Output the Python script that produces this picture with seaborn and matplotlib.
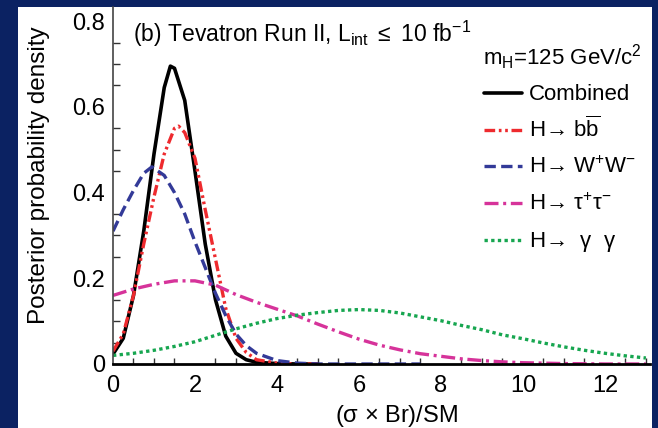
import numpy as np
import pandas as pd
import seaborn as sns
import matplotlib
matplotlib.use("Agg")
import matplotlib.pyplot as plt
from matplotlib.lines import Line2D
from matplotlib.patches import Rectangle
from matplotlib.ticker import MultipleLocator

# ---------------- data ----------------
comb_x = [0, 0.25, 0.5, 0.75, 1.0, 1.25, 1.4, 1.5, 1.75, 2.0, 2.25, 2.5, 2.75, 3.0, 3.25, 3.5, 4.0, 4.5, 5.0]
comb_y = [0.023, 0.06, 0.16, 0.31, 0.49, 0.645, 0.695, 0.69, 0.615, 0.45, 0.28, 0.15, 0.065, 0.025, 0.01, 0.004, 0.001, 0, 0]

bb_x = [0, 0.25, 0.5, 0.75, 1.0, 1.25, 1.5, 1.6, 1.75, 2.0, 2.25, 2.5, 2.75, 3.0, 3.25, 3.5, 4.0, 4.5, 5.0]
bb_y = [0.03, 0.07, 0.16, 0.28, 0.39, 0.49, 0.55, 0.555, 0.54, 0.48, 0.36, 0.245, 0.13, 0.06, 0.027, 0.01, 0.002, 0, 0]

ww_x = [0, 0.25, 0.5, 0.75, 0.95, 1.25, 1.5, 1.75, 2.0, 2.25, 2.5, 2.75, 3.0, 3.25, 3.5, 4.0, 4.5, 5.0, 6.0, 7.5]
ww_y = [0.31, 0.36, 0.405, 0.445, 0.46, 0.44, 0.40, 0.35, 0.285, 0.225, 0.165, 0.113, 0.07, 0.043, 0.025, 0.008, 0.002, 0, 0, 0]

wide_x = [0, 0.5, 1.0, 1.5, 2.0, 2.5, 3.0, 3.5, 4.0, 4.5, 5.0, 5.5, 6.0, 6.5, 7.0, 7.5,
          8.0, 8.5, 9.0, 9.5, 10.0, 10.5, 11.0, 11.5, 12.0, 12.5, 13.0]
tautau_y = [0.16, 0.175, 0.186, 0.194, 0.194, 0.184, 0.162, 0.144, 0.128, 0.112, 0.093, 0.075, 0.058, 0.044,
            0.033, 0.024, 0.018, 0.012, 0.008, 0.005, 0.003, 0.002, 0.001, 0.0005, 0, 0, 0]
gg_y = [0.02, 0.025, 0.032, 0.041, 0.052, 0.067, 0.082, 0.095, 0.106, 0.114, 0.12, 0.125, 0.127, 0.125,
        0.119, 0.11, 0.101, 0.09, 0.08, 0.068, 0.059, 0.049, 0.04, 0.032, 0.025, 0.019, 0.014]

labels = ["Combined",
          r"H→ b$\overline{\mathrm{b}}$",
          r"H→ W$^{\mathrm{+}}$W$^{\mathrm{-}}$",
          r"H→ $\mathrm{\tau^{+}\tau^{-}}$",
          r"H→  $\mathrm{\gamma}$  $\mathrm{\gamma}$"]
x_ticks = [0, 2, 4, 6, 8, 10, 12]
y_ticks = [0, 0.2, 0.4, 0.6, 0.8]
y_tick_labels = ["0", "0.2", "0.4", "0.6", "0.8"]

# ---------------- style ----------------
sns.set_theme(style="white")
plt.rcParams['font.family'] = ['Liberation Sans', 'DejaVu Sans']
plt.rcParams['mathtext.fontset'] = 'custom'
plt.rcParams['mathtext.rm'] = 'Liberation Sans'
plt.rcParams['mathtext.it'] = 'Liberation Sans:italic'
plt.rcParams['mathtext.default'] = 'regular'
plt.rcParams['text.color'] = 'black'
plt.rcParams['axes.labelcolor'] = 'black'

NAVY = '#0b2262'
series = [
    (comb_x, comb_y, dict(color='black', lw=2.6, ls='-')),
    (bb_x, bb_y, dict(color='#ee2a2e', lw=2.4, ls=(0, (3.2, 1.1, 0.8, 1.1, 0.8, 1.1)))),
    (ww_x, ww_y, dict(color='#333a98', lw=2.4, ls=(0, (3.4, 1.6)))),
    (wide_x, tautau_y, dict(color='#d6339a', lw=2.4, ls=(0, (4.2, 1.4, 0.9, 1.4)))),
    (wide_x, gg_y, dict(color='#17a650', lw=2.4, ls=(0, (1.0, 1.0)))),
]

W, H = 658, 428
fig = plt.figure(figsize=(W / 100, H / 100), dpi=100, facecolor=NAVY)
fig.patches.append(Rectangle((18 / W, 0), (652 - 18) / W, 1 - 7 / H, transform=fig.transFigure,
                             facecolor='white', edgecolor='none', zorder=-10))

ax = fig.add_axes([113 / W, (H - 364) / H, (650 - 113) / W, (364 - 7) / H])
ax.set_zorder(2)
ax.patch.set_alpha(0)

for xs, ys, st in series:
    sns.lineplot(x=xs, y=ys, ax=ax, color=st['color'], linewidth=st['lw'], linestyle=st['ls'],
                 sort=False, estimator=None, dash_capstyle='butt', solid_joinstyle='round')

ax.set_xlim(0, 13.1)
ax.set_ylim(0, 0.833)
ax.set_xticks(x_ticks)
ax.set_xticklabels([str(t) for t in x_ticks])
ax.set_yticks(y_ticks)
ax.set_yticklabels(y_tick_labels)
ax.xaxis.set_minor_locator(MultipleLocator(0.5))
ax.yaxis.set_minor_locator(MultipleLocator(0.05))
ax.tick_params(axis='both', which='both', direction='in', colors='#333333', labelcolor='black', labelsize=17)
ax.tick_params(axis='x', which='major', length=8.5, width=1.0, pad=8)
ax.tick_params(axis='x', which='minor', length=4.3, width=1.0, bottom=True)
ax.tick_params(axis='y', which='major', length=10.5, width=1.0, pad=5.5)
ax.tick_params(axis='y', which='minor', length=5, width=1.0, left=True)

for s in ['top', 'right']:
    ax.spines[s].set_visible(False)
ax.spines['left'].set_color('#444444')
ax.spines['left'].set_linewidth(1.2)
ax.spines['bottom'].set_color('black')
ax.spines['bottom'].set_linewidth(2.0)

ax.set_xlabel(r"($\mathrm{\sigma}$ $\times$ Br)/SM", fontsize=17)
ax.xaxis.set_label_coords(0.527, -0.108)
ax.set_ylabel("Posterior probability density", fontsize=17.5)
ax.yaxis.set_label_coords(-0.118, 0.53)

# title text
fig.text(133 / W, 1 - 42 / H, r"(b) Tevatron Run II, L$_{\mathrm{int}}$ $\leq$ 10 fb$^{\mathrm{-1}}$",
         fontsize=16.5, va='baseline', ha='left', zorder=5)

# legend (manual, matching reference layout)
fig.text(483 / W, 1 - 65 / H, r"m$_{\mathrm{H}}$=125 GeV/c$^{\mathrm{2}}$", fontsize=16, va='baseline', ha='left', zorder=5)
row_base = [100, 137, 173, 210, 247]
for (xs, ys, st), lab, yb in zip(series, labels, row_base):
    yc = 1 - (yb - 7) / H
    ln = Line2D([484 / W, 522 / W], [yc, yc], transform=fig.transFigure, color=st['color'],
                lw=st['lw'], ls=st['ls'], dash_capstyle='butt')
    ln.set_zorder(5)
    fig.add_artist(ln)
    fig.text(529 / W, 1 - yb / H, lab, fontsize=16, va='baseline', ha='left', zorder=5)

fig.savefig("out.png", dpi=100, facecolor=NAVY)
